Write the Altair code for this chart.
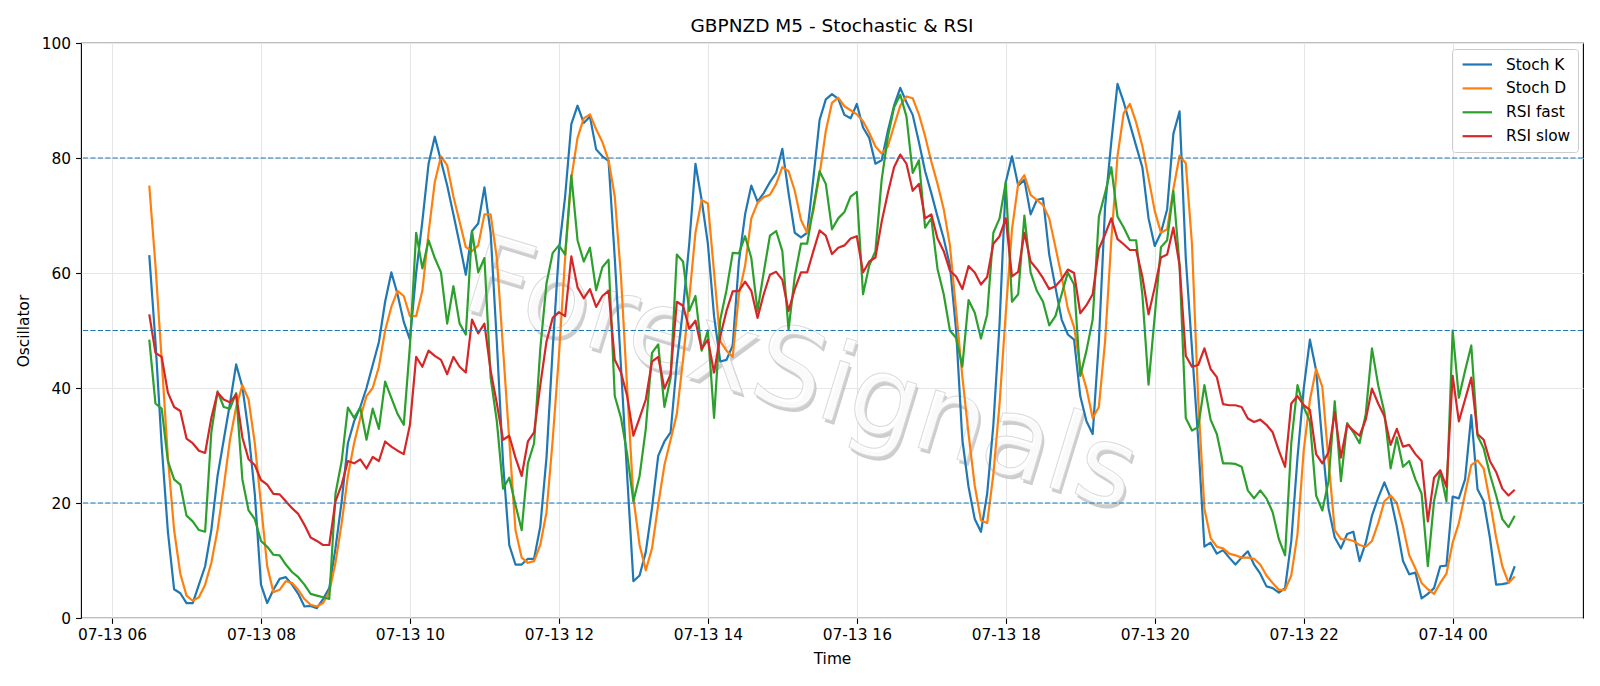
import altair as alt
import pandas as pd

# ---------------- data ----------------
series_names = ["Stoch K", "Stoch D", "RSI fast", "RSI slow"]
series_colors = ["#1f77b4", "#ff7f0e", "#2ca02c", "#d62728"]
start_time = "2023-07-13 06:30"
step = "5min"

stoch_k = [
    63.1, 48, 30, 15, 5, 4.3, 2.6, 2.6, 5.8, 9,
    15.3, 24.7, 31, 37.3, 44.1, 40.2, 32.3, 21.6, 5.8, 2.6,
    4.9, 6.8, 7.1, 5.8, 4.2, 2.0, 2.1, 1.7, 3.3, 5.2,
    12.1, 20.3, 30.4, 34.2, 36.7, 40, 44, 48, 55, 60.1,
    56.3, 51.5, 48.4, 60, 69, 79, 83.7, 79.5, 75.2, 70.2,
    65.1, 59.7, 67.3, 68.6, 74.9, 67, 48, 27, 12.7, 9.3,
    9.3, 10.3, 10.3, 15.9, 27.9, 46.8, 63.8, 73.3, 85.9, 89.1,
    86.1, 87.2, 81.5, 80.3, 79.5, 62.6, 43.7, 24.7, 6.4, 7.4,
    11.5, 19.1, 28.2, 30.7, 32.3, 44.3, 53.8, 65.1, 79, 72.7,
    65.1, 52.5, 44.6, 44.9, 47.4, 62, 70.2, 75.2, 72.4, 73.9,
    75.8, 77.4, 81.6, 73.9, 67, 66.2, 67, 76.5, 86.6, 90.2,
    91.1, 90.3, 87.5, 86.9, 89.4, 85.3, 83.5, 79, 79.6, 84.7,
    89.1, 92.2, 89.7, 87.5, 82.8, 77.7, 73.9, 69.8, 66, 61.3,
    50, 31, 22.8, 17.2, 15, 21.6, 33.6, 51.2, 75.8, 80.3,
    75.2, 76.2, 70.2, 72.7, 73, 63.2, 57.5, 51.9, 49.3, 48.4,
    38.6, 34.2, 32, 48.1, 71.5, 82.8, 92.9, 89.7, 85.9, 82.1,
    78.4, 69.5, 64.7, 67, 71.1, 84.2, 88.1, 62.6, 46.8, 31,
    12.4, 13.1, 11.2, 11.8, 10.5, 9.3, 10.5, 11.6, 9.3, 7.7,
    5.5, 5.2, 4.4, 5.2, 13.4, 27.9, 39.9, 48.4, 43.1, 30.4,
    19.1, 14, 12.1, 14.6, 15, 9.9, 13.1, 17.8, 20.9, 23.6,
    20.9, 15.9, 9.9, 7.6, 7.9, 3.4, 4.2, 5.2, 9, 9.1,
    21.1, 20.8, 24.1, 35.3, 22.4, 20.3, 14, 5.8, 5.9, 6.1, 9,
]

stoch_d = [
    75.2, 61.3, 44.9, 27.9, 15.3, 7.7, 3.9, 3.0, 3.6, 5.8,
    9.6, 15.3, 22.8, 31, 36.7, 40.5, 38, 30.4, 19.7, 9,
    4.5, 4.9, 6.4, 6.1, 4.9, 3.3, 2.3, 2.0, 2.6, 4.5,
    9.6, 16.5, 24.7, 30.4, 34.8, 38.6, 40, 43.7, 50, 54.1,
    56.9, 56, 52.5, 52.5, 56.9, 67, 75.8, 80.3, 78.7, 73.3,
    68.9, 64.5, 63.8, 64.8, 70.2, 70.2, 62.6, 46.8, 31, 15.3,
    10.5, 9.6, 9.9, 12.7, 18.4, 31, 45.6, 62.6, 76.5, 83.5,
    86.9, 87.6, 85, 82.8, 79.6, 73.3, 59.4, 39.9, 20.9, 12.7,
    8.3, 12.1, 19.7, 26.6, 31, 35.5, 44.9, 55.6, 67, 72.7,
    72.1, 60.1, 48.1, 46.5, 45.4, 56.3, 61.3, 69.5, 72.2, 73.2,
    73.6, 75.5, 78.4, 77.7, 74.3, 69.2, 67, 70.8, 77.1, 84.7,
    89.6, 90.5, 89, 88.3, 87.6, 86.4, 84.4, 82, 80.8, 82,
    85.6, 89.1, 90.7, 90.4, 87.6, 83.8, 79.4, 75.5, 71.1, 64.8,
    53.4, 42, 32, 23, 17, 16.5, 25, 37.3, 53.1, 67.6,
    75.5, 77, 73.6, 72.7, 71.8, 69.5, 64.5, 59.4, 53.8, 50.6,
    43.7, 39.9, 34.8, 36.7, 48.1, 65.7, 80.3, 87.8, 89.4, 86.2,
    82.1, 76.5, 70.8, 67, 67.6, 74.6, 80.4, 79.1, 65, 38,
    19, 13.9, 12.4, 12.1, 11.2, 10.9, 10.5, 10.5, 10.3, 9.3,
    7.4, 6.1, 4.9, 4.9, 7.4, 14.6, 29.1, 37.9, 43.3, 40.2,
    27.3, 15.3, 13.7, 13.7, 13.4, 12.7, 12.4, 13.4, 16.5, 20.3,
    21.3, 20, 15.9, 10.9, 8.6, 6.1, 5, 4.2, 6.1, 7.7,
    13.1, 16.5, 21.6, 26.6, 27.4, 26, 20.3, 14, 9, 6.1, 7.2,
]

rsi_fast = [
    48.4, 37.3, 36.4, 27.3, 24.1, 23.2, 17.8, 16.8, 15.3, 15,
    32.3, 39.4, 36.7, 36.4, 39.1, 24.1, 18.7, 17.2, 13.4, 12.4,
    11, 10.9, 9.3, 8, 7.1, 5.8, 4.2, 3.9, 3.6, 3.3,
    21.6, 27.3, 36.6, 34.8, 36.6, 31, 36.4, 32.9, 41.1, 38.3,
    35.5, 33.6, 47.4, 67, 60.8, 65.7, 62.6, 60.1, 51.2, 57.7,
    51.2, 49.3, 67.3, 60.1, 62.6, 41.8, 34.2, 22.5, 24.4, 19.7,
    15.3, 26.9, 30.4, 46.8, 58.2, 63.5, 64.8, 63.2, 77, 65.7,
    62, 64.4, 57, 61, 62.3, 38.6, 34.8, 28.5, 20.3, 24.7,
    32.9, 46.1, 47.6, 36.7, 41.8, 63.2, 62, 53.4, 56, 46.5,
    50, 34.8, 51.9, 57, 63.5, 63.4, 66.4, 62.6, 53.4, 60.1,
    66.5, 67.3, 63.8, 50.1, 59.4, 65.1, 65.1, 71.4, 77.7, 75.5,
    67.6, 69.5, 70.6, 73.3, 74.1, 56.3, 61.3, 63.8, 76.2, 83.7,
    88.8, 91, 87.2, 77.4, 79.6, 67.9, 69.5, 60.7, 56.3, 50,
    48.7, 43.7, 55.3, 53.1, 48.6, 52.8, 67, 69.5, 75.8, 55,
    56.3, 70, 60.1, 56.9, 55, 50.9, 52.5, 56.3, 60.1, 58,
    42.1, 46.5, 51.9, 69.8, 73.9, 78.4, 69.8, 67.9, 65.7, 65.7,
    56.3, 40.6, 52.5, 64.5, 65.7, 74.3, 61.3, 34.8, 32.6, 33.2,
    40.5, 34.5, 32, 26.9, 26.9, 26.8, 26.3, 22.2, 20.8, 22.2,
    20.8, 18.4, 13.7, 10.9, 30.4, 40.5, 36.7, 34.2, 21.3, 18.7,
    23.8, 37.7, 23.8, 33.9, 32.3, 30.4, 35.5, 46.9, 40.5, 35.8,
    26, 31.4, 26.3, 27.3, 24.1, 21.6, 9, 20.3, 25.5, 20.3,
    50, 38.3, 43, 47.4, 31.7, 29.5, 25, 21.3, 17.2, 15.8, 17.8,
]

rsi_slow = [
    52.8, 46.1, 45.4, 39.2, 36.7, 36, 31.2, 30.4, 29.1, 28.7,
    34.8, 39.2, 38, 37.5, 38.9, 31.4, 27.6, 26.6, 24, 23.2,
    21.6, 21.5, 20.3, 19.1, 18.1, 16.2, 14, 13.4, 12.7, 12.7,
    20.3, 23.2, 27.3, 26.9, 27.6, 26, 28, 27.3, 30.7, 29.8,
    29.1, 28.5, 33.6, 45.4, 43.7, 46.5, 45.6, 44.9, 42.4, 45.4,
    43.7, 42.7, 51.9, 49.5, 51.2, 43, 37.3, 31, 31.7, 27.9,
    24.7, 30.7, 32.3, 40.5, 48.1, 52.2, 53.2, 52.5, 62.9, 57.5,
    55.6, 57.2, 54.1, 56, 56.9, 44.9, 42.7, 38.6, 31.7, 34.8,
    38, 44.6, 45.4, 39.9, 42.4, 55, 54.3, 50.3, 51.7, 46.8,
    48.4, 42.7, 49, 53.4, 56.8, 56.9, 58.5, 56.9, 52.2, 56.3,
    59.7, 60.2, 58.8, 53.4, 57.2, 60.1, 60.1, 63.8, 67.4, 66.5,
    63.3, 64.4, 64.8, 66, 66.4, 60.1, 62, 62.7, 68.9, 73.9,
    78.4, 80.6, 79, 74.3, 75.5, 69.5, 70.2, 66, 63.8, 60.4,
    59.4, 57.2, 61.2, 60.1, 58, 59.3, 65.1, 66.4, 69.5, 59.4,
    60.2, 67, 62, 60.7, 59.1, 57.2, 57.7, 58.9, 60.6, 60,
    53, 54.4, 56.3, 64.2, 66.7, 69.5, 65.9, 65, 64, 64,
    59.4, 52.8, 57.5, 62.7, 63.2, 67.9, 61.3, 45.6, 43.7, 44,
    46.9, 43.3, 41.9, 37.2, 37, 37, 36.7, 34.7, 34.1, 34.5,
    33.6, 32.3, 29.1, 26.3, 37.3, 38.6, 37, 36.2, 28.5, 26.9,
    28.8, 35.8, 27.9, 33.6, 32.6, 31.7, 34.5, 39.9, 37.3, 35.1,
    30.1, 32.9, 29.8, 30.1, 28.5, 27.3, 16.8, 24.4, 25.7, 22.8,
    42.1, 34.2, 38, 41.8, 32, 31, 27.3, 25.4, 22.5, 21.3, 22.3,
]

levels = [20, 50, 80]
y_ticks = [0, 20, 40, 60, 80, 100]
x_tick_hours = [(13, 6), (13, 8), (13, 10), (13, 12), (13, 14), (13, 16),
                (13, 18), (13, 20), (13, 22), (14, 0)]
watermark_text = "ForexSignals"

# ---------------- build tables ----------------
n = len(stoch_k)
assert all(len(s) == n for s in (stoch_d, rsi_fast, rsi_slow))
times = pd.date_range(start_time, periods=n, freq=step)
wide = pd.DataFrame({"Time": times, "Stoch K": stoch_k, "Stoch D": stoch_d,
                     "RSI fast": rsi_fast, "RSI slow": rsi_slow})
long = wide.melt(id_vars="Time", value_vars=series_names,
                 var_name="series", value_name="value")

FONT = "DejaVu Sans"
FS = 15.4

x_enc = alt.X(
    "Time:T",
    scale=alt.Scale(domain=[alt.DateTime(year=2023, month=7, date=13, hours=5, minutes=35),
                            alt.DateTime(year=2023, month=7, date=14, hours=1, minutes=45)]),
    axis=alt.Axis(values=[alt.DateTime(year=2023, month=7, date=d, hours=h)
                          for d, h in x_tick_hours],
                  format="%m-%d %H", title="Time", labelFlush=False,
                  labelPadding=4, titlePadding=9),
)
y_enc = alt.Y(
    "value:Q",
    scale=alt.Scale(domain=[0, 100], nice=False, zero=False),
    axis=alt.Axis(values=y_ticks, title="Oscillator", labelPadding=5, titlePadding=10),
)

WM_X, WM_Y, WM_ANGLE, WM_SIZE = 720, 334, 17, 110

watermark_shadow = alt.Chart(pd.DataFrame({"t": [watermark_text]})).mark_text(
    font=FONT, fontSize=WM_SIZE, angle=WM_ANGLE, align="center", baseline="middle",
    color="#b8b8b8", opacity=0.7, dx=3, dy=3,
).encode(text="t:N", x=alt.value(WM_X), y=alt.value(WM_Y))

watermark_face = alt.Chart(pd.DataFrame({"t": [watermark_text]})).mark_text(
    font=FONT, fontSize=WM_SIZE, angle=WM_ANGLE, align="center", baseline="middle",
    fill="#ffffff", stroke="#d8d8d8", strokeWidth=1, opacity=0.9,
).encode(text="t:N", x=alt.value(WM_X), y=alt.value(WM_Y))

lines = alt.Chart(long).mark_line(strokeWidth=2.2, strokeJoin="round").encode(
    x=x_enc,
    y=y_enc,
    color=alt.Color(
        "series:N",
        scale=alt.Scale(domain=series_names, range=series_colors),
        legend=alt.Legend(
            orient="none", legendX=1371, legendY=6, title=None,
            symbolType="M-0.7,0H3.5", symbolSize=196, symbolStrokeWidth=2.2,
            labelFont=FONT, labelFontSize=FS, labelColor="black",
            labelOffset=30, padding=7, rowPadding=6.9,
            strokeColor="#cccccc", fillColor="rgba(255,255,255,0.8)",
            cornerRadius=3,
        ),
    ),
    detail="series:N",
)

rules = alt.Chart(pd.DataFrame({"level": levels})).mark_rule(
    color="#1f77b4", strokeDash=[5.2, 2.2], strokeWidth=1.1
).encode(y=alt.Y("level:Q", scale=alt.Scale(domain=[0, 100], nice=False)))

chart = alt.layer(watermark_shadow, watermark_face, lines, rules).properties(
    width=1502, height=575,
    padding={"left": 81, "top": 43, "right": 17, "bottom": 68},
    autosize=alt.AutoSizeParams(type="none"),
    background="white",
    title=alt.TitleParams("GBPNZD M5 - Stochastic & RSI", font=FONT, fontSize=18.5,
                          fontWeight="normal", color="black", anchor="middle",
                          frame="group", offset=1),
).configure_view(
    stroke="black", strokeWidth=1.1
).configure_axis(
    domain=False, grid=True, gridColor="#e6e6e6", gridWidth=1.1,
    tickColor="black", tickSize=5.4, tickWidth=1.1,
    labelFont=FONT, labelFontSize=FS, labelColor="black",
    titleFont=FONT, titleFontSize=FS, titleColor="black", titleFontWeight="normal",
)

chart.save("out.html", embed_options={"renderer": "svg", "actions": False})
